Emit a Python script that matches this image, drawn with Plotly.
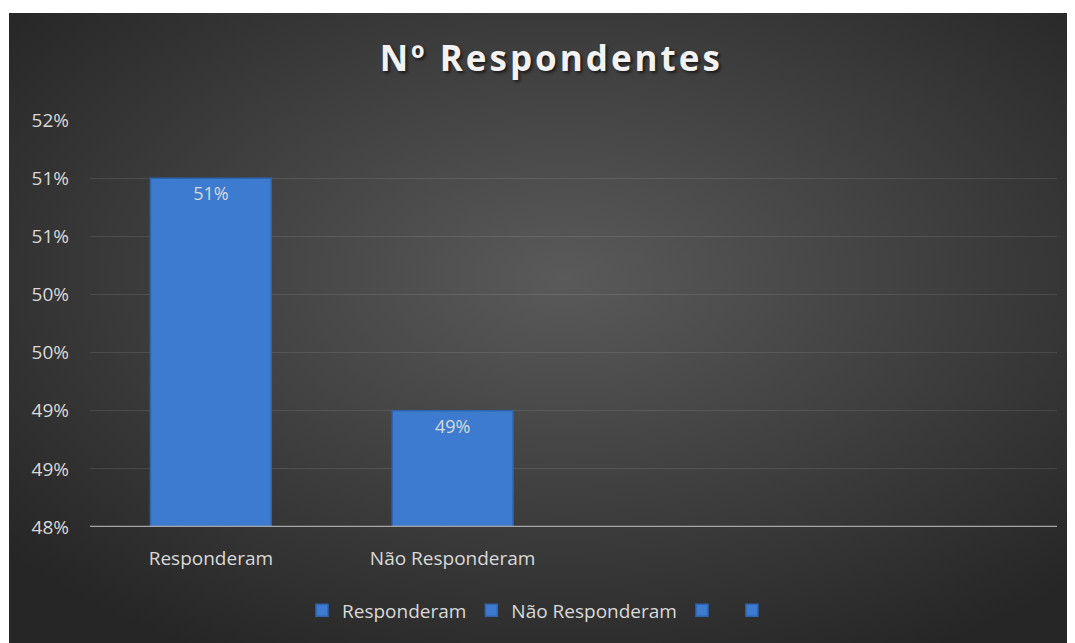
import base64
import plotly.graph_objects as go

categories = ["Responderam", "Não Responderam", " ", "  "]
values = [0.51, 0.49, None, None]
bar_labels = ["51%", "49%", "", ""]
tick_vals = [0.48, 0.485, 0.49, 0.495, 0.50, 0.505, 0.51, 0.515]
tick_text = ["48%", "49%", "49%", "50%", "50%", "51%", "51%", "52%"]
x_labels = ["Responderam", "Não Responderam", "", ""]

# page body has an 8px margin, so the figure is a bit smaller than the window
W, H = 1067, 635
ml, mr, mt, mb = 82, 18, 112, 116
pw, ph = W - ml - mr, H - mt - mb

svg = """<svg xmlns='http://www.w3.org/2000/svg' width='1066' height='630' preserveAspectRatio='none'>
<defs><radialGradient id='g' cx='52%' cy='42%' r='68%'>
<stop offset='0%' stop-color='#5a5a5a'/><stop offset='100%' stop-color='#262626'/>
</radialGradient></defs><rect width='1066' height='630' fill='url(#g)'/></svg>"""
bg_src = "data:image/svg+xml;base64," + base64.b64encode(svg.encode()).decode()

font = "Open Sans, Noto Sans, sans-serif"
fig = go.Figure()
for i, (cat, v, lab) in enumerate(zip(categories, values, bar_labels)):
    fig.add_trace(go.Bar(
        x=[i], y=[v], name=cat, width=0.5,
        marker=dict(color="#3c7bd0", line=dict(color="#2f64b0", width=1.5)),
        text=[lab], textposition="inside", insidetextanchor="end",
        textfont=dict(color="#d9d9d9", size=18, family=font),
        hoverinfo="skip",
    ))

fig.update_layout(
    width=W, height=H,
    margin=dict(l=ml, r=mr, t=mt, b=mb),
    paper_bgcolor="white", plot_bgcolor="rgba(0,0,0,0)",
    title=dict(text="<b>Nº Respondentes</b>", x=0.477, xref="paper", xanchor="center",
               y=0.92, yanchor="middle",
               font=dict(size=35, color="#f2f2f2", family=font,
                         shadow="2px 2px 3px rgba(0,0,0,0.6)")),
    showlegend=True,
    legend=dict(orientation="h", x=0.47, xanchor="center", xref="paper", y=-0.205, yanchor="middle",
                font=dict(size=19, color="#d9d9d9", family=font), bgcolor="rgba(0,0,0,0)",
                itemwidth=30),
    images=[dict(source=bg_src, xref="paper", yref="paper",
                 x=(1 - ml) / pw, y=(H - mb - 5) / ph,
                 sizex=(W - 1) / pw, sizey=(H - 5) / ph,
                 xanchor="left", yanchor="top", sizing="stretch", layer="below")],
)
fig.update_xaxes(range=[-0.5, 3.5], tickvals=[0, 1, 2, 3], ticktext=x_labels,
                 tickfont=dict(size=19, color="#d9d9d9", family=font),
                 showgrid=False, zeroline=False, showline=False, ticks="", ticklabelstandoff=18)
fig.update_yaxes(range=[0.48, 0.515], tickvals=tick_vals, ticktext=tick_text,
                 tickfont=dict(size=19, color="#d9d9d9", family=font),
                 showgrid=True, gridcolor="rgba(255,255,255,0.1)", gridwidth=1,
                 zeroline=False, showline=False, ticks="", ticklabelstandoff=20)
fig.add_shape(type="line", xref="paper", yref="y", x0=0, x1=1, y0=0.48, y1=0.48,
              line=dict(color="#a6a6a6", width=2.5))

# Excel-style spaced title
js = "document.querySelectorAll('.gtitle').forEach(function(t){t.style.letterSpacing='3px';});"
fig.write_html("out.html", post_script=js)
